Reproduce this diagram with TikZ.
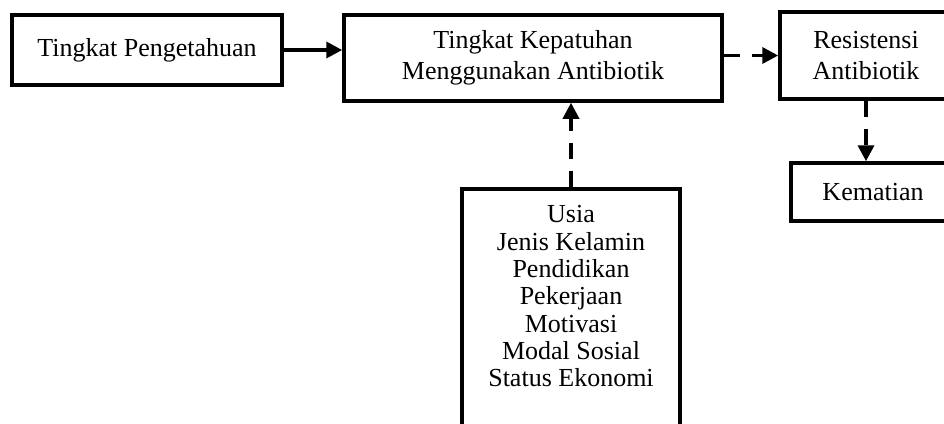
\documentclass[tikz,border=0pt]{standalone}
\usepackage{fontspec}
\setmainfont{Liberation Serif}
\usetikzlibrary{arrows.meta}
\begin{document}
\begin{tikzpicture}[x=1pt,y=1pt,
  box/.style={draw, line width=3.5pt, inner sep=0pt, font=\fontsize{26}{30.5}\selectfont, align=center},
  txt/.style={inner sep=0pt, font=\fontsize{26}{27.3}\selectfont, align=center},
  arr/.style={line width=3.5pt, -{Triangle[length=16pt,width=16pt]}},
  dasharr/.style={arr, dash pattern=on 16pt off 12pt}]
\useasboundingbox (0,0) rectangle (944,-423);
\clip (0,0) rectangle (944,-423);
\node[box, minimum width=270pt, minimum height=70pt] (b1) at (147,-50) {Tingkat Pengetahuan};
\node[box, minimum width=378pt, minimum height=86pt] (b2) at (533,-58) {Tingkat Kepatuhan\\Menggunakan Antibiotik};
\node[box, minimum width=172pt, minimum height=87pt] (b3) at (866,-55.5) {Resistensi\\Antibiotik};
\node[box, minimum width=164pt, minimum height=58pt] (b4) at (873,-192) {Kematian};
\node[box, minimum width=218pt, minimum height=270pt, anchor=north] (b5) at (571,-187) {};
\node[txt, anchor=north] (b5t) at (571,-205.5) {Usia\\Jenis Kelamin\\Pendidikan\\Pekerjaan\\Motivasi\\Modal Sosial\\Status Ekonomi};
\draw[arr] (b1.east) -- (b2.west |- b1.east);
\draw[dasharr] (b2.east |- b3.west) -- (b3.west);
\draw[dasharr] (b5.north) -- (b5.north |- b2.south);
\draw[dasharr] (b3.south) -- (b3.south |- b4.north);
\end{tikzpicture}
\end{document}
